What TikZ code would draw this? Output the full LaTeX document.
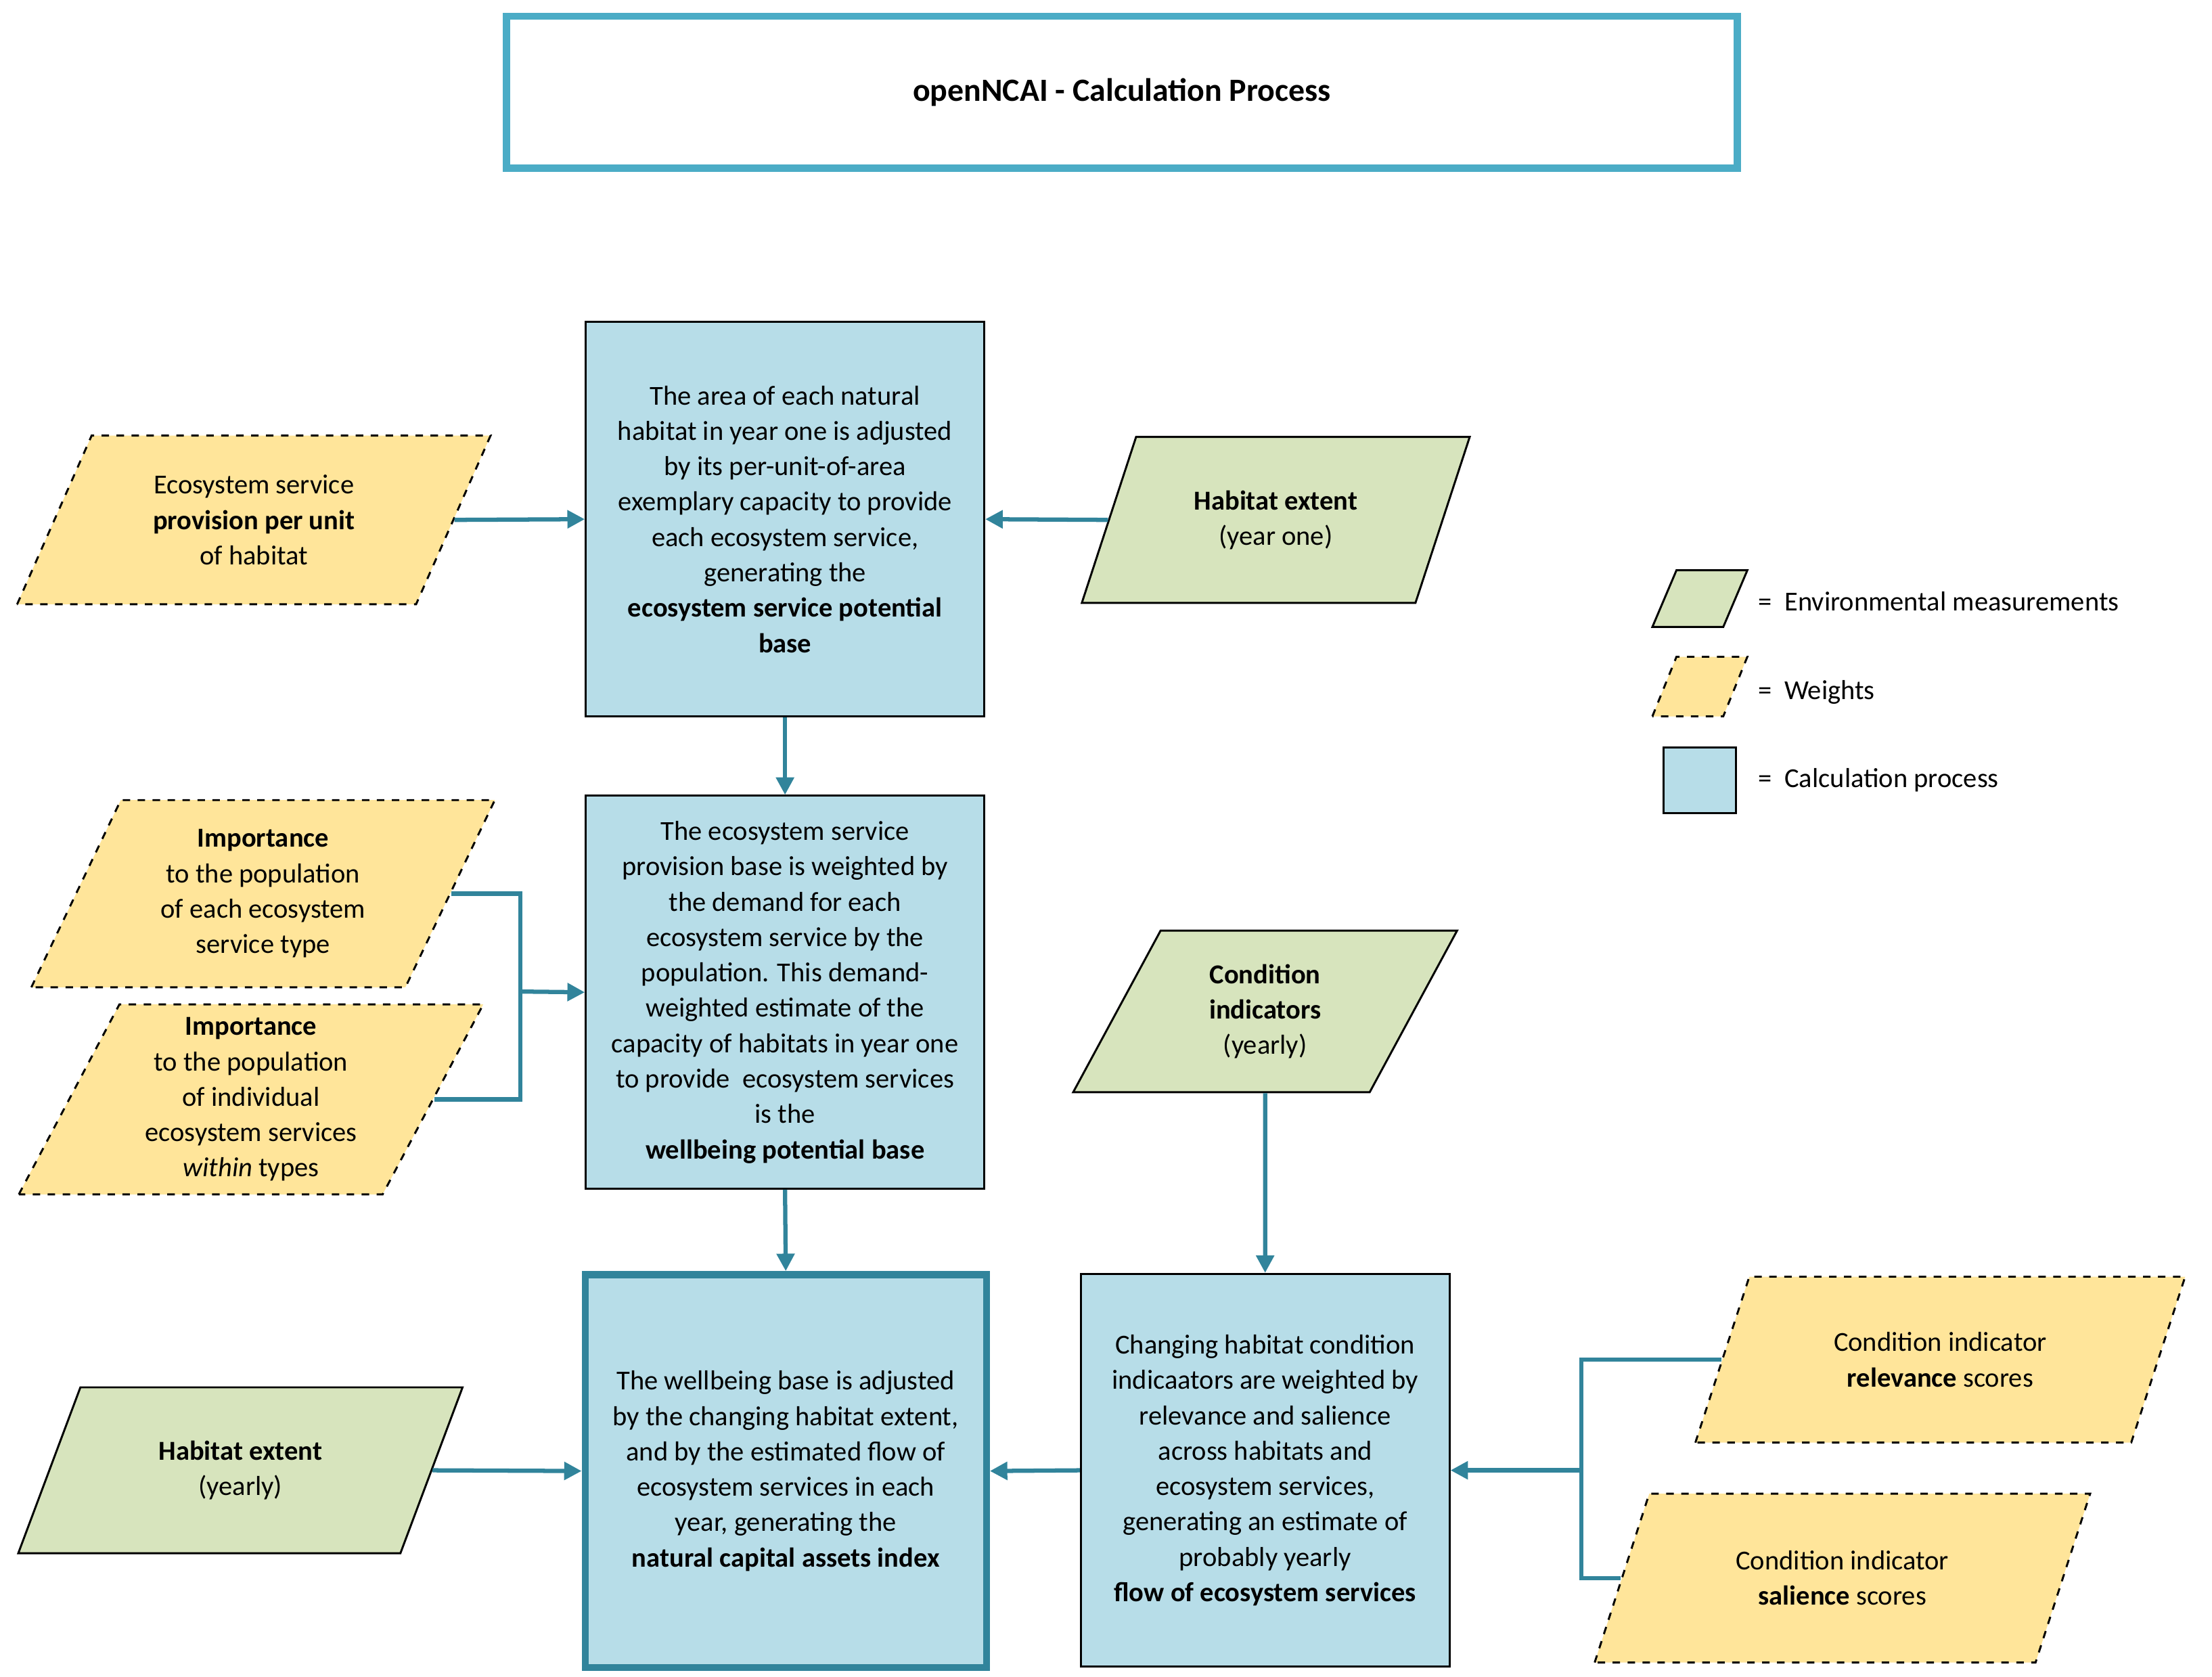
\documentclass[tikz,border=0pt]{standalone}
\usepackage{fontspec}
\setmainfont{Carlito}
\usepackage{tikz}
\usetikzlibrary{arrows.meta,positioning,shapes.geometric,calc}
\definecolor{calcblue}{HTML}{B7DDE8}
\definecolor{measgreen}{HTML}{D7E4BD}
\definecolor{weightyellow}{HTML}{FFE59A}
\definecolor{teal}{HTML}{31849B}
\definecolor{titleblue}{HTML}{4BACC6}
\begin{document}
\begin{tikzpicture}[x=0.02cm,y=-0.02cm,% pixel-like units
	every node/.style={
		align=center,		% so that "\\" breaks lines
		font=\fontsize{11}{14.2}\selectfont,
		inner sep=2pt
		},
	calcbox/.style={rectangle,draw=black,thick,fill=calcblue},
	para/.style={trapezium,trapezium left angle=64,trapezium right angle=116,
		trapezium stretches=true,draw=black,thick},
	measure/.style={para,fill=measgreen},
	weight/.style={para,fill=weightyellow,dashed},
	flow/.style={draw=teal,line width=1.7pt,-{Triangle[length=7pt,width=7pt]}},
	link/.style={draw=teal,line width=1.7pt}
	]
	\useasboundingbox (0,0) rectangle (1559.6,1182.2);
	% title
	\node[rectangle,draw=titleblue,line width=2.8pt,minimum width=17.36cm,minimum height=2.14cm,
		font=\fontsize{13}{16}\selectfont\bfseries](title) at (791,65){openNCAI - Calculation Process};
	% calculation steps
	\node[calcbox,minimum width=5.62cm,minimum height=5.56cm](base) at (553.5,366){The area of each natural\\ habitat in year one is adjusted\\ by its per-unit-of-area\\ exemplary capacity to provide\\ each ecosystem service,\\ generating the\\ \textbf{ecosystem service potential}\\ \textbf{base}};
	\node[calcbox,minimum width=5.62cm,minimum height=5.54cm](wellbeing) at (553.5,699.5){The ecosystem service\\ provision base is weighted by\\ the demand for each\\ ecosystem service by the\\ population. This demand-\\ weighted estimate of the\\ capacity of habitats in year one\\ to provide\ \ ecosystem services\\ is the\\ \textbf{wellbeing potential base}};
	\node[calcbox,draw=teal,line width=2.8pt,minimum width=5.66cm,minimum height=5.54cm](index) at (554,1037){The wellbeing base is adjusted\\ by the changing habitat extent,\\ and by the estimated flow of\\ ecosystem services in each\\ year, generating the\\ \textbf{natural capital assets index}};
	\node[calcbox,minimum width=5.2cm,minimum height=5.54cm](flowbox) at (892,1036.5){Changing habitat condition\\ indicaators are weighted by\\ relevance and salience\\ across habitats and\\ ecosystem services,\\ generating an estimate of\\ probably yearly\\ \textbf{flow of ecosystem services}};
	% inputs
	\node[weight,minimum width=6.68cm,minimum height=2.38cm](provision) at (179,366.5){Ecosystem service\\ \textbf{provision per unit}\\ of habitat};
	\node[measure,minimum width=5.5cm,minimum height=2.34cm](extentone) at (899.5,366.5){\textbf{Habitat extent}\\ (year one)};
	\node[weight,minimum width=6.54cm,minimum height=2.64cm](imptype) at (185.5,630){\textbf{Importance}\\ to the population\\ of each ecosystem\\ service type};
	\node[weight,minimum width=6.56cm,minimum height=2.68cm](impind) at (177,775){\textbf{Importance}\\ to the population\\ of individual\\ ecosystem services\\ \textit{within} types};
	\node[measure,minimum width=5.44cm,minimum height=2.28cm](condition) at (892,713){\textbf{Condition}\\ \textbf{indicators}\\ (yearly)};
	\node[measure,minimum width=6.3cm,minimum height=2.34cm](extentyear) at (169.5,1036.5){\textbf{Habitat extent}\\ (yearly)};
	\node[weight,minimum width=6.92cm,minimum height=2.34cm](relevance) at (1368,958.5){Condition indicator\\ \textbf{relevance} scores};
	\node[weight,minimum width=7.0cm,minimum height=2.38cm](salience) at (1299,1112.5){Condition indicator\\ \textbf{salience} scores};
	% legend
	\node[measure,minimum width=1.34cm,minimum height=0.8cm](legmeas) at (1198.5,422){\phantom{x}};
	\node[weight,minimum width=1.34cm,minimum height=0.84cm](legweight) at (1198.5,484){\phantom{x}};
	\node[calcbox,minimum width=1.02cm,minimum height=0.92cm](legcalc) at (1198.5,550){};
	\node[anchor=west](legmeastext) at (1236,424){=\ \ Environmental measurements};
	\node[anchor=west](legweighttext) at (1236,488){=\ \ Weights};
	\node[anchor=west](legcalctext) at (1236,550){=\ \ Calculation process};
	% connectors
	\coordinate (impjoin) at (367,699);
	\coordinate (condjoin) at (1115,1036.5);
	\path[flow] (provision.east) -- (base.west);
	\path[flow] (extentone.west) -- (base.east);
	\path[flow] (base.south) -- (wellbeing.north);
	\path[link] (imptype.east) -| (impjoin) |- (impind.east);
	\path[flow] (impjoin) -- (wellbeing.west);
	\path[flow] (wellbeing.south) -- (index.north);
	\path[flow] (condition.south) -- (flowbox.north);
	\path[flow] (extentyear.east) -- (index.west);
	\path[flow] (flowbox.west) -- (index.east);
	\path[link] (relevance.west) -| (condjoin) |- (salience.west);
	\path[flow] (condjoin) -- (flowbox.east);
\end{tikzpicture}
\end{document}
